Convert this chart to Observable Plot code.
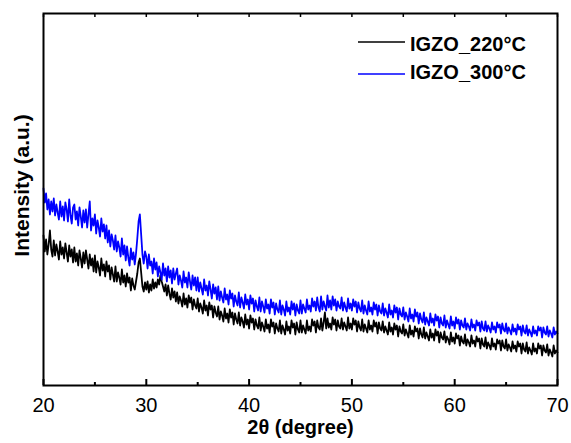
<!DOCTYPE html>
<html>
<head>
<meta charset="utf-8">
<script src="https://cdn.jsdelivr.net/npm/d3@7"></script>
<script src="https://cdn.jsdelivr.net/npm/@observablehq/plot@0.6"></script>
<style>
  html, body { margin: 0; padding: 0; background: #fff; }
  #chart svg { display: block; }
</style>
</head>
<body>
<div id="chart"></div>
<script>
// 2θ grid: start and step (degrees)
const thetaStart = 20;
const thetaStep = 0.125;

// Intensity (a.u.), IGZO annealed at 220 °C (8 readings per degree)
const i220 = [
  150,134,146,131,141,155,136,129, 145,130,141,134,126,144,131,138,
  127,142,133,124,140,129,136,123, 138,124,132,120,135,127,118,133,
  122,135,126,117,131,120,127,114, 130,113,124,118,110,127,115,121,
  109,124,114,120,106,118,111,104, 119,104,113,108,101,116,103,110,
  99,112,103,108,95,107,100,96, 104,112,123,127,113,99,94,103,
  96,104,93,101,95,106,97,103, 98,106,101,110,104,99,94,101,
  90,100,92,86,97,88,94,84, 93,82,89,85,79,92,81,87,
  78,90,83,88,76,86,80,77, 87,74,82,78,72,85,75,80,
  70,83,76,80,68,79,73,69, 79,66,74,70,64,77,67,72,
  63,76,68,73,61,72,66,62, 73,60,68,64,58,71,61,66,
  57,70,63,67,56,66,60,57, 68,55,63,59,54,66,57,61,
  53,66,59,63,52,62,57,54, 65,52,60,56,51,64,55,59,
  52,65,58,62,51,63,56,53, 65,53,60,56,52,65,55,59,
  54,66,60,64,53,65,58,56, 67,55,63,73,57,67,58,62,
  56,68,61,66,55,65,59,57, 67,56,63,59,55,68,57,62,
  56,67,61,65,54,64,58,55, 66,54,61,57,53,65,56,60,
  54,65,59,63,52,63,57,55, 64,53,59,55,51,63,54,58,
  51,62,56,60,49,59,54,52, 61,50,56,52,48,60,51,55,
  49,59,54,57,47,57,51,48, 58,47,53,49,45,56,48,52,
  45,56,50,54,43,53,48,46, 54,43,49,46,41,53,44,48,
  42,52,47,50,40,49,44,42, 51,40,46,43,39,50,42,45,
  39,49,44,47,37,47,41,39, 48,37,43,40,36,47,39,42,
  36,46,42,45,35,45,39,37, 46,35,41,38,34,44,37,40,
  34,44,39,42,32,42,36,34, 43,32,38,35,31,42,34,37,
  32,42,37,40,30,40,35,33, 41,30,36,33,29,40,32,35,
  33
];

// Intensity (a.u.), IGZO annealed at 300 °C (8 readings per degree)
const i300 = [
  197,183,192,176,186,171,184,174, 187,170,181,173,166,184,169,179,
  165,183,176,164,186,170,162,178, 181,166,174,160,178,169,158,175,
  163,176,158,171,184,155,167,160, 171,152,165,158,149,167,154,161,
  147,160,143,155,139,151,145,136, 150,134,144,138,129,147,131,140,
  125,139,128,120,137,126,133,121, 132,147,164,171,151,131,122,134,
  129,117,131,120,124,112,127,116, 123,109,119,113,106,122,110,117,
  104,119,108,115,102,117,106,112, 117,101,110,105,98,114,103,108,
  98,113,104,96,110,100,108,95, 108,94,103,97,91,106,95,100,
  90,104,96,87,101,92,98,86, 99,85,94,88,83,97,86,91,
  81,95,87,92,79,90,84,80, 93,78,88,83,77,91,81,86,
  76,90,82,87,74,85,79,75, 88,74,84,79,73,86,77,81,
  72,86,78,83,71,82,76,73, 85,71,80,76,70,84,74,78,
  71,84,76,82,70,81,75,72, 85,72,81,77,73,86,76,80,
  74,87,79,84,75,88,78,74, 89,76,84,79,75,90,78,85,
  76,89,80,86,75,84,79,77, 88,75,83,78,74,87,77,82,
  75,86,79,84,73,83,77,74, 85,72,80,75,71,84,74,78,
  71,83,76,81,70,80,74,72, 82,70,77,73,68,81,71,75,
  68,80,73,78,66,77,71,69, 78,66,73,69,64,77,67,71,
  64,76,69,73,62,72,66,63, 73,61,68,64,60,72,63,67,
  60,71,65,69,58,68,62,60, 70,58,65,61,57,69,60,64,
  57,68,62,66,56,65,60,58, 67,56,62,59,55,66,58,61,
  55,65,60,63,54,64,57,55, 64,54,60,57,53,63,56,59,
  53,63,58,61,52,62,56,54, 62,52,58,55,51,61,54,57,
  51,61,56,59,50,60,54,52, 60,50,56,53,49,59,52,55,
  50,59,55,58,48,58,53,51, 59,49,55,52,48,58,51,54,
  52
];

const seriesNames = ["IGZO_220°C", "IGZO_300°C"];
const seriesColors = ["#000000", "#0000ff"];
const majorTicks = [20, 30, 40, 50, 60, 70];
const minorTicks = [25, 35, 45, 55, 65];
const allTicks = [20, 25, 30, 35, 40, 45, 50, 55, 60, 65, 70];

const rows = [];
[i220, i300].forEach((arr, s) => {
  arr.forEach((v, i) => rows.push({theta: thetaStart + i * thetaStep, intensity: v, series: seriesNames[s]}));
});

const FONT = "'Liberation Sans', Arial, Helvetica, sans-serif";

const chart = Plot.plot({
  width: 571,
  height: 443,
  marginTop: 13,
  marginRight: 14,
  marginBottom: 58,
  marginLeft: 43,
  style: {fontFamily: FONT, background: "#fff", color: "#000"},
  x: {domain: [20, 70]},
  y: {domain: [0, 372], axis: null},
  color: {domain: seriesNames, range: seriesColors},
  marks: [
    Plot.line(rows, {x: "theta", y: "intensity", z: "series", stroke: "series", strokeWidth: 1.8}),
    Plot.axisX({ticks: majorTicks, tickSize: 0, tickPadding: 12, fontSize: 20, label: null, tickFormat: d => String(d)}),
    Plot.axisX({ticks: majorTicks, tickSize: -6, text: null, label: null, strokeWidth: 2}),
    Plot.axisX({ticks: minorTicks, tickSize: -3, text: null, label: null, strokeWidth: 2}),
    Plot.axisX({anchor: "top", ticks: allTicks, tickSize: -3, text: null, label: null, strokeWidth: 1.5}),
    Plot.frame({stroke: "#000", strokeWidth: 2}),
    Plot.text(["2θ (degree)"], {frameAnchor: "bottom", dy: 42, fontSize: 20, fontWeight: "bold", lineAnchor: "middle", fill: "#000"}),
    Plot.text(["Intensity (a.u.)"], {frameAnchor: "left", dx: -21, dy: -14, rotate: -90, fontSize: 21, fontWeight: "bold", lineAnchor: "middle", textAnchor: "middle", fill: "#000"})
  ]
});

// Legend (inside the frame, top right)
const svg = d3.select(chart);
const lg = svg.append("g").attr("font-family", FONT).attr("text-anchor", "start");
seriesNames.forEach((name, i) => {
  const yy = i === 0 ? 42 : 74;
  const ty = i === 0 ? 43.5 : 72;
  lg.append("line").attr("x1", 358).attr("x2", 405).attr("y1", yy).attr("y2", yy)
    .attr("stroke", seriesColors[i]).attr("stroke-width", 1.5);
  lg.append("text").attr("x", 410).attr("y", ty).attr("dy", "0.35em")
    .attr("font-size", 20).attr("font-weight", "bold").attr("fill", "#000").text(name);
});

document.getElementById("chart").appendChild(chart);
</script>
</body>
</html>
